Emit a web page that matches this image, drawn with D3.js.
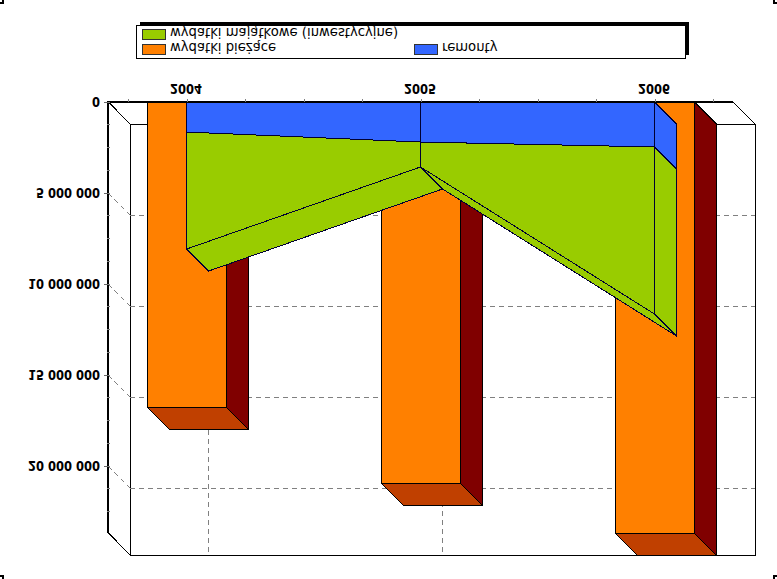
<!DOCTYPE html>
<html><head><meta charset="utf-8">
<script src="https://cdnjs.cloudflare.com/ajax/libs/d3/7.8.5/d3.min.js"></script>
<style>html,body{margin:0;padding:0;background:#fff}svg{display:block}</style>
</head><body><div id="c"></div>
<script>
const years=["2004","2005","2006"];
const biezace=[16800000,20950000,23700000];
const remonty=[1650000,2200000,2470000];
const majatkowe=[6430000,1370000,9180000];
const tickValues=[0,5000000,10000000,15000000,20000000];
const tickLabels=["0","5 000 000","10 000 000","15 000 000","20 000 000"];
const legendLabels=["wydatki majątkowe (inwestycyjne)","wydatki bieżące","remonty"];
const colors={green:"#99CC00",orange:"#FF8000",blue:"#3366FF",dark:"#800000",under:"#C04000",line:"#000033"};

const W=777,H=579,depth=22,axisMax=23680000;
const svg=d3.select("#c").append("svg").attr("width",W).attr("height",H).attr("viewBox",[0,0,W,H]).attr("shape-rendering","crispEdges");
const y=d3.scaleLinear().domain([0,axisMax]).range([102,533]);
const x=d3.scalePoint().domain(years).range([187,655]);
const xLin=d3.scaleLinear().domain([0,8]).range([187,655]);
const barOff=39.5;
const L=108,R=733;
const poly=(pts,fill,stroke,sw)=>svg.append("polygon").attr("points",pts.map(p=>p.join(",")).join(" "))
  .attr("fill",fill).attr("stroke",stroke||"none").attr("stroke-width",sw||1);
const seg=(a,b,c,d,col,sw,dash)=>svg.append("line").attr("x1",a).attr("y1",b).attr("x2",c).attr("y2",d)
  .attr("stroke",col).attr("stroke-width",sw||1).attr("stroke-dasharray",dash||null);
const flipText=(t,px,py,anchor,size,weight,sx,sy)=>svg.append("text")
  .attr("transform",`translate(${px},${py}) scale(${sx||1},${-(sy||1)})`).attr("text-anchor",anchor)
  .attr("font-family","'DejaVu Sans',Verdana,sans-serif").attr("font-size",size).attr("font-weight",weight||"bold")
  .attr("fill","#000").text(t);

// crop corners
[[0,3,3,3,3,0],[774,0,774,3,777,3],[0,576,3,576,3,579],[777,576,774,576,774,579]].forEach(p=>
  svg.append("polyline").attr("points",p.join(",")).attr("fill","none").attr("stroke","#000").attr("stroke-width",1.5));

// walls
svg.append("rect").attr("x",L+depth+.5).attr("y",y(0)+depth+.5).attr("width",R-L).attr("height",y(axisMax)-y(0))
  .attr("fill","#fff").attr("stroke","#000").attr("stroke-width",1);
seg(L+.5,y(axisMax),L+depth,y(axisMax)+depth,"#000",1);
seg(L+.5,y(0),L+depth,y(0)+depth,"#000",1);
seg(R,y(0),R+depth,y(0)+depth,"#000",1);

// grid
tickValues.slice(1).forEach(v=>{
  seg(L+depth,y(v)+depth,R+depth,y(v)+depth,"#808080",1,"5 4");
  seg(L,y(v),L+depth,y(v)+depth,"#808080",1,"5 4");
});
years.forEach(c=>seg(x(c)+depth-.5,y(0)+depth,x(c)+depth-.5,y(axisMax)+depth,"#808080",1,"5 4"));

// bars
years.forEach((c,i)=>{
  const xl=x(c)-barOff, xr=x(c)+barOff, t=y(0), b=y(biezace[i]);
  poly([[xr,t],[xr+depth,t+depth],[xr+depth,b+depth],[xr,b]],colors.dark,"#000",1);
  poly([[xl,b],[xr,b],[xr+depth,b+depth],[xl+depth,b+depth]],colors.under,"#000",1);
  svg.append("rect").attr("x",xl).attr("y",t).attr("width",xr-xl).attr("height",b-t)
    .attr("fill",colors.orange).attr("stroke","#000").attr("stroke-width",1);
});

// stacked 3D area
const stack1=remonty, stack2=remonty.map((v,i)=>v+majatkowe[i]);
const X=years.map(c=>x(c)-.5), last=X.length-1;
const line=colors.line;
for(let i=0;i<last;i++){
  poly([[X[i],y(stack2[i])],[X[i+1],y(stack2[i+1])],[X[i+1]+depth,y(stack2[i+1])+depth],[X[i]+depth,y(stack2[i])+depth]],colors.green,line,1);
}
poly([[X[last],y(stack1[last])],[X[last],y(stack2[last])],[X[last]+depth,y(stack2[last])+depth],[X[last]+depth,y(stack1[last])+depth]],colors.green,line,1);
poly([[X[last],y(0)],[X[last],y(stack1[last])],[X[last]+depth,y(stack1[last])+depth],[X[last]+depth,y(0)+depth]],colors.blue,line,1);
const area=(lo,hi,fill)=>svg.append("path").datum(years.map((c,i)=>i))
  .attr("d",d3.area().x(i=>X[i]).y0(i=>y(lo[i])).y1(i=>y(hi[i])))
  .attr("fill",fill).attr("stroke",line).attr("stroke-width",1);
area(stack1,stack2,colors.green);
area(years.map(()=>0),stack1,colors.blue);
X.forEach((px,i)=>seg(px,y(0),px,y(stack2[i]),line,1));

// axes
seg(L,y(0),R,y(0),"#000",2);
seg(L,y(0)-1,L,y(axisMax),"#000",2);
d3.range(0,axisMax,1250000).forEach(v=>seg(L-1.5,y(v),L+1.5,y(v),"#808080",1));
tickValues.forEach((v,i)=>{
  seg(L-4,y(v),L,y(v),"#666",1);
  flipText(tickLabels[i],100,y(v)-5,"end",12,"bold",.96,1.12);
});
d3.range(-1,10).forEach(k=>seg(xLin(k),y(0)-3,xLin(k),y(0),"#808080",1));
years.forEach(c=>flipText(c,x(c)-1,y(0)-18,"middle",12,"bold",.96,1.12));

// legend
svg.append("path").attr("d","M140,23.5H687.5V55").attr("fill","none").attr("stroke","#000").attr("stroke-width",3);
svg.append("rect").attr("x",136.5).attr("y",25.5).attr("width",549).attr("height",33).attr("fill","#fff").attr("stroke","#000");
const leg=[[142,29,170,colors.green,0],[142,44,170,colors.orange,1],[414,44,442,colors.blue,2]];
leg.forEach(([sx,sy,tx,col,i])=>{
  svg.append("rect").attr("x",sx+.5).attr("y",sy+.5).attr("width",23).attr("height",10).attr("fill",col).attr("stroke","#333").attr("stroke-width",1);
  flipText(legendLabels[i],tx,sy-1,"start",13.2,"normal");
});
</script></body></html>
